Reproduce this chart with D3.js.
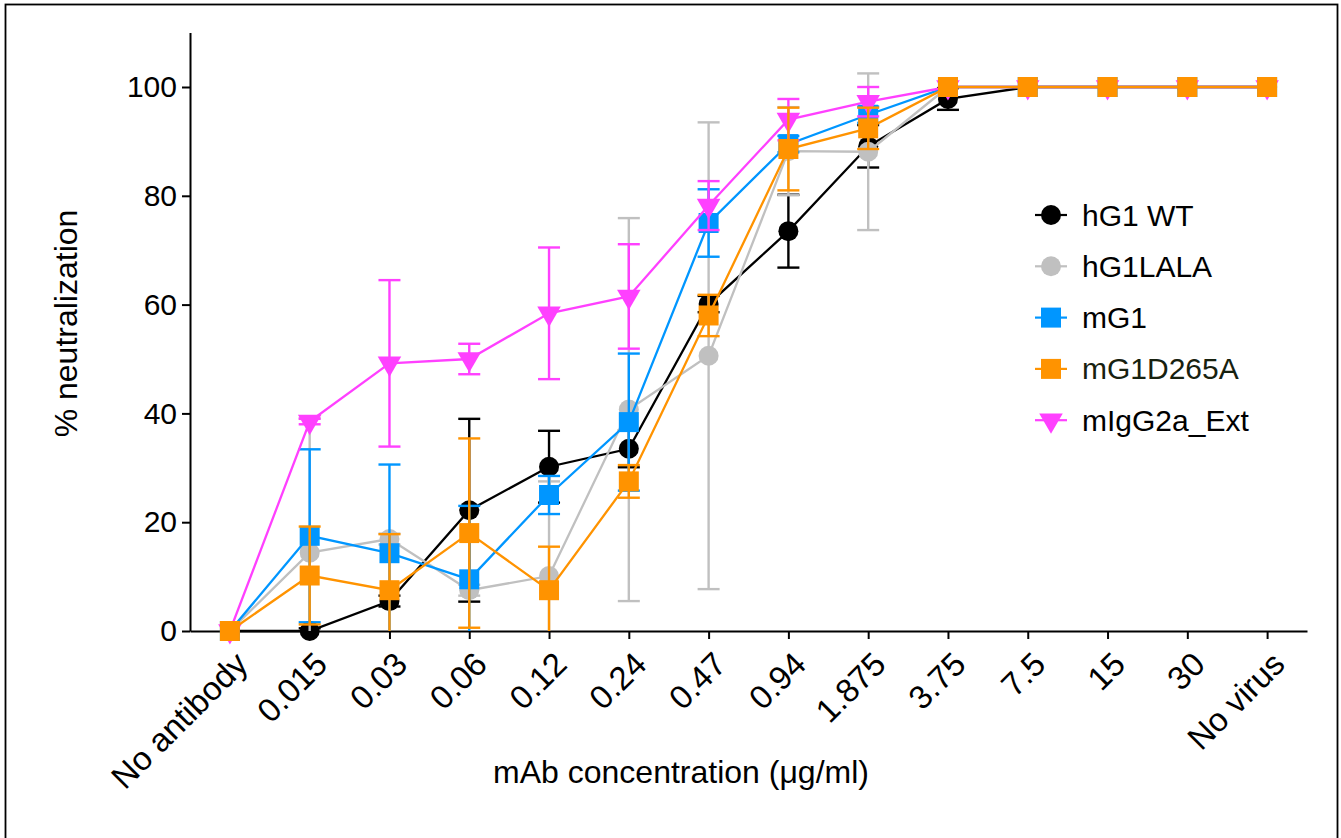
<!DOCTYPE html>
<html>
<head>
<meta charset="utf-8">
<script src="https://cdn.jsdelivr.net/npm/d3@7"></script>
<style>
  body { margin: 0; background: #fff; }
  svg { display: block; font-family: "Liberation Sans", Arial, Helvetica, sans-serif; }
</style>
</head>
<body>
<script>
// concentrations on the x axis (categorical)
const categories = ["No antibody", "0.015", "0.03", "0.06", "0.12", "0.24", "0.47", "0.94", "1.875", "3.75", "7.5", "15", "30", "No virus"];
const yTicks = [0, 20, 40, 60, 80, 100];

const seriesNames = ["hG1 WT", "hG1LALA", "mG1", "mG1D265A", "mIgG2a_Ext"];

// mean % neutralization and error (SD) per concentration
const hG1WT      = [0, 0, 5.5, 22.2, 30.2, 33.5, 60.1, 73.5, 89.1, 97.8, 100, 100, 100, 100];
const hG1WTErr   = [0, 0.5, 1, 16.8, 6.6, 3.4, 1.5, 6.7, 3.9, 2, 0, 0, 0, 0];
const hG1LALA    = [0, 14.4, 16.9, 7.5, 10.1, 40.7, 50.6, 88.2, 88.1, 100, 100, 100, 100, 100];
const hG1LALAErr = [0, 24.7, 1, 1, 17.4, 35.2, 42.9, 8.1, 14.4, 0, 0, 0, 0, 0];
const mG1        = [0, 17.5, 14.3, 9.5, 25.0, 38.4, 75.0, 89.5, 94.9, 100, 100, 100, 100, 100];
const mG1Err     = [0, 15.9, 16.3, 13.5, 3.5, 12.6, 6.2, 1.5, 1.5, 0, 0, 0, 0, 0];
const mG1D265A   = [0, 10.2, 7.5, 18.0, 7.5, 27.5, 58.0, 88.6, 92.4, 100, 100, 100, 100, 100];
const mG1D265AErr= [0, 9, 10.3, 17.4, 8, 3, 3.8, 7.6, 3.8, 0, 0, 0, 0, 0];
const mIgG2a     = [0, 38.5, 49.2, 50.0, 58.4, 61.5, 78.2, 94.0, 97.3, 100, 100, 100, 100, 100];
const mIgG2aErr  = [0, 0.5, 15.3, 2.8, 12.1, 9.6, 4.5, 3.8, 2.7, 0, 0, 0, 0, 0];

function drawChart() {
  const width = 1341;
  const height = 838;
  const margins = {top: 32.6, bottom: 207, left: 190, right: 34};

  const colors = {"hG1 WT": "#000000", "hG1LALA": "#c0c0c0", "mG1": "#0096ff", "mG1D265A": "#ff9300", "mIgG2a_Ext": "#ff40ff"};
  const shapes = {"hG1 WT": "circle", "hG1LALA": "circle", "mG1": "square", "mG1D265A": "square", "mIgG2a_Ext": "triangle"};
  const values = {"hG1 WT": hG1WT, "hG1LALA": hG1LALA, "mG1": mG1, "mG1D265A": mG1D265A, "mIgG2a_Ext": mIgG2a};
  const errors = {"hG1 WT": hG1WTErr, "hG1LALA": hG1LALAErr, "mG1": mG1Err, "mG1D265A": mG1D265AErr, "mIgG2a_Ext": mIgG2aErr};
  // drawing order (last one ends up on top)
  const drawOrder = ["hG1 WT", "hG1LALA", "mG1", "mIgG2a_Ext", "mG1D265A"];

  const svg = d3.select("body").append("svg")
    .attr("width", width)
    .attr("height", height);

  // outer frame
  svg.append("rect")
    .attr("x", 5.5).attr("y", 4.5)
    .attr("width", 1332).attr("height", 900)
    .attr("fill", "none")
    .attr("stroke", "#000")
    .attr("stroke-width", 1.8);

  const xScale = d3.scalePoint()
    .domain(categories)
    .range([margins.left, width - margins.right])
    .padding(0.5);

  const yScale = d3.scaleLinear()
    .domain([0, 110])
    .range([height - margins.bottom, margins.top]);

  const xAxis = d3.axisBottom(xScale).tickSize(8).tickSizeOuter(0);
  const yAxis = d3.axisLeft(yScale).tickValues(yTicks).tickSize(8).tickSizeOuter(0).tickPadding(5);

  const gx = svg.append("g")
    .attr("transform", `translate(0, ${height - margins.bottom})`)
    .call(xAxis);

  const gy = svg.append("g")
    .attr("transform", `translate(${margins.left}, 0)`)
    .call(yAxis);

  for (const g of [gx, gy]) {
    g.selectAll("path, line").attr("stroke", "#000").attr("stroke-width", 2);
    g.selectAll("text").attr("fill", "#000").style("font-size", "30px");
    g.attr("font-family", null).attr("font-size", null);
  }

  gx.selectAll("text")
    .attr("x", 0)
    .attr("y", 0)
    .attr("dy", "0.35em")
    .attr("transform", "translate(11, 27) rotate(-45)")
    .attr("text-anchor", "end")
    .style("font-size", "33px");

  // axis titles
  svg.append("text")
    .attr("transform", "translate(77, 323.5) rotate(-90)")
    .attr("text-anchor", "middle")
    .style("font-size", "32px")
    .text("% neutralization");

  svg.append("text")
    .attr("x", 681)
    .attr("y", 783)
    .attr("text-anchor", "middle")
    .style("font-size", "32px")
    .text("mAb concentration (μg/ml)");

  const line = d3.line()
    .x((d, i) => xScale(categories[i]))
    .y(d => yScale(d));

  const symbolFor = function(name) {
    if (shapes[name] == "circle") return d3.symbol(d3.symbolCircle, Math.PI * 100)();
    if (shapes[name] == "square") return d3.symbol(d3.symbolSquare, 400)();
    return d3.symbol(d3.symbolTriangle, 240)();
  };

  const capHalf = 11;

  for (const name of drawOrder) {
    const v = values[name];
    const e = errors[name];
    const g = svg.append("g");

    g.append("path")
      .attr("fill", "none")
      .attr("stroke", colors[name])
      .attr("stroke-width", 2.3)
      .attr("d", line(v));

    // error bars
    v.forEach((m, i) => {
      if (e[i] <= 0) return;
      const cx = xScale(categories[i]);
      const hi = yScale(m + e[i]);
      const lo = yScale(Math.max(0, m - e[i]));
      g.append("line")
        .attr("x1", cx).attr("x2", cx)
        .attr("y1", hi).attr("y2", lo)
        .attr("stroke", colors[name])
        .attr("stroke-width", 2.4);
      g.append("line")
        .attr("x1", cx - capHalf).attr("x2", cx + capHalf)
        .attr("y1", hi).attr("y2", hi)
        .attr("stroke", colors[name])
        .attr("stroke-width", 2.4);
      if (m - e[i] >= 0) {
        g.append("line")
          .attr("x1", cx - capHalf).attr("x2", cx + capHalf)
          .attr("y1", lo).attr("y2", lo)
          .attr("stroke", colors[name])
          .attr("stroke-width", 2.4);
      }
    });

    g.selectAll("symbols")
      .data(v)
      .enter()
      .append("path")
        .attr("d", symbolFor(name))
        .attr("transform", (d, i) => `translate(${xScale(categories[i])}, ${yScale(d)})` + (shapes[name] == "triangle" ? " rotate(180)" : ""))
        .attr("fill", colors[name]);
  }

  // legend
  const legend = svg.append("g").attr("transform", "translate(1051, 215)");
  const rows = legend.selectAll("rows")
    .data(seriesNames)
    .enter()
    .append("g")
      .attr("transform", (d, i) => `translate(0, ${i * 51.3})`);

  rows.append("line")
    .attr("x1", -16).attr("x2", 16)
    .attr("stroke", d => colors[d])
    .attr("stroke-width", 2.2);

  rows.append("path")
    .attr("d", d => symbolFor(d))
    .attr("transform", d => shapes[d] == "triangle" ? "rotate(180)" : null)
    .attr("fill", d => colors[d]);

  rows.append("text")
    .attr("x", 31)
    .attr("dy", "0.35em")
    .style("font-size", "30px")
    .style("fill", d => d == "mG1D265A" ? "#17210f" : "#000")
    .text(d => d);
}

drawChart();
</script>
</body>
</html>
